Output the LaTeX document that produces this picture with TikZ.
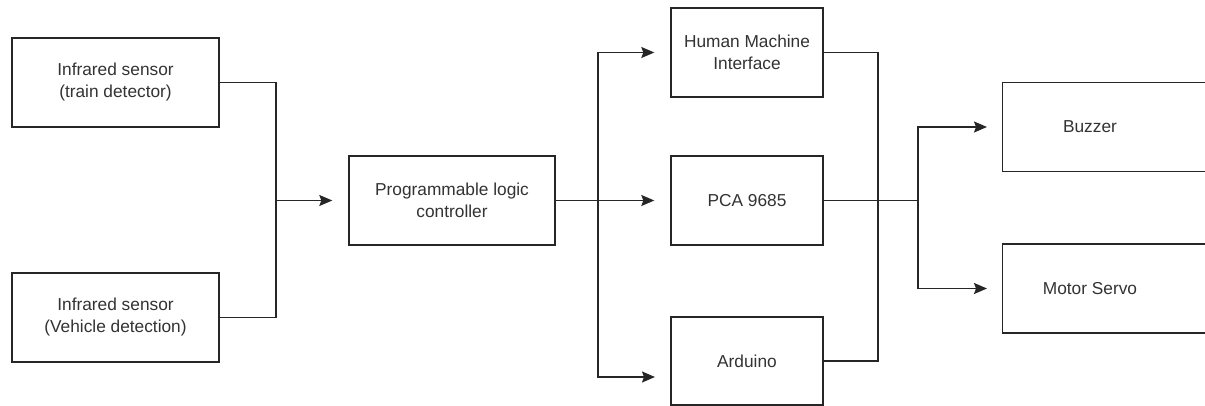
\documentclass[tikz,border=0pt]{standalone}
\usepackage{fontspec}
\setmainfont{Liberation Sans}
\usetikzlibrary{arrows.meta}
\begin{document}
\begin{tikzpicture}[x=1pt,y=-1pt,
  font=\fontsize{17.3}{22}\selectfont,
  line/.style={draw=black!85, line width=1.4pt},
  block/.style={line, rectangle, minimum height=89pt, inner sep=0pt, text=black!80, align=center},
  wide/.style={block, minimum width=207pt},
  narrow/.style={block, minimum width=152pt},
  label/.style={text=black!80, inner sep=0pt},
  conn/.style={line},
  flow/.style={line, -{Stealth[length=13pt,width=11pt,inset=2pt]}},
]
\clip (0,0) rectangle (1205,406);
\fill[white] (0,0) rectangle (1205,406);

% input sensors
\node[wide] (ir1) at (115.5,82.5) {Infrared sensor\\(train detector)};
\node[wide] (ir2) at (115.5,317.5) {Infrared sensor\\(Vehicle detection)};

% controller
\node[wide, minimum width=206pt] (plc) at (452,200.5) {Programmable logic\\controller};

% middle stage
\node[narrow] (hmi) at (747,52.5) {Human Machine\\Interface};
\node[narrow] (pca) at (747,200.5) {PCA 9685};
\node[narrow, minimum height=88pt] (ard) at (747,361) {Arduino};

% outputs (boxes run past the right edge)
\node[block, minimum width=213pt, anchor=west] (buz) at (1002,127) {};
\node[label] (buzt) at (1090,127) {Buzzer};
\node[block, minimum width=213pt, anchor=west] (mot) at (1002,288.5) {};
\node[label] (mott) at (1090,288.5) {Motor Servo};

% junction points
\coordinate (j1) at (276,200.5);
\coordinate (j2) at (598,200.5);
\coordinate (j3) at (878,200.5);
\coordinate (j4) at (918,200.5);
\coordinate (a3) at (655,377);

% sensors -> PLC
\draw[conn] (ir1.east) -| (j1);
\draw[conn] (ir2.east) -| (j1);
\draw[flow, shorten >=16pt] (j1) -- (plc.west);

% PLC -> middle stage
\draw[conn] (plc.east) -- (j2);
\draw[flow, shorten >=16pt] (j2) -- (pca.west);
\draw[flow, shorten >=16pt] (j2) |- (hmi.west);
\draw[flow] (j2) |- (a3);

% middle stage -> outputs
\draw[conn] (hmi.east) -| (j3) |- (ard.east);
\draw[conn] (pca.east) -- (j4);
\draw[flow, shorten >=15pt] (j4) |- (buz.west);
\draw[flow, shorten >=15pt] (j4) |- (mot.west);
\end{tikzpicture}
\end{document}
